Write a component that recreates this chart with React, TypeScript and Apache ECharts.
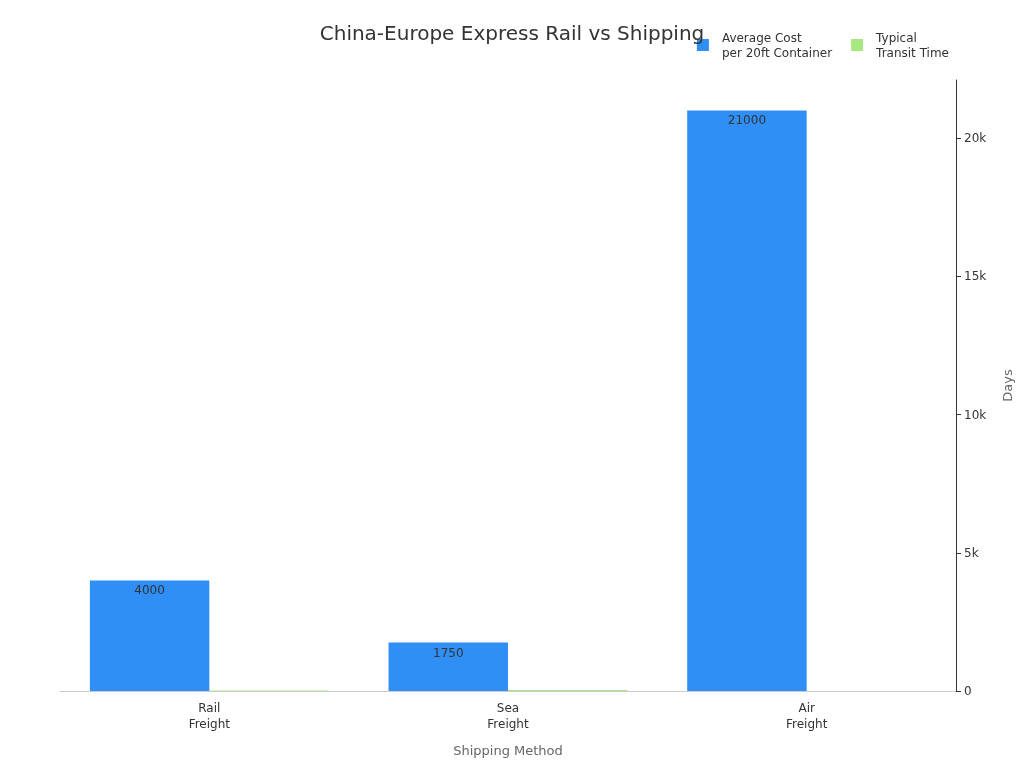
import * as echarts from "echarts";
import { useEffect, useRef } from "react";

const categories = ["Rail\nFreight", "Sea\nFreight", "Air\nFreight"];
const costValues = [4000, 1750, 21000];
const transitDays = [16, 35, 3];
const yTicks = [0, 5000, 10000, 15000, 20000];

export default function App() {
  const chartRef = useRef<HTMLDivElement | null>(null);

  useEffect(() => {
    const el = chartRef.current;
    if (!el) return;
    const chart = echarts.init(el, undefined, { renderer: "svg" });

    const option: echarts.EChartsOption = {
      animation: false,
      textStyle: { fontFamily: "DejaVu Sans" },
      title: {
        text: "China-Europe Express Rail vs Shipping",
        left: "center",
        top: 18,
        textStyle: { fontSize: 20, fontWeight: "normal", color: "#333" },
      },
      legend: {
        top: 25,
        right: 70,
        itemWidth: 12,
        itemHeight: 12,
        itemGap: 19,
        icon: "rect",
        textStyle: { fontSize: 12, color: "#333", lineHeight: 15, padding: [0, 0, 0, 8] },
        data: ["Average Cost\nper 20ft Container", "Typical\nTransit Time"],
      },
      grid: { left: 60, right: 68, top: 80, bottom: 77, outerBoundsMode: "none", containLabel: false },
      xAxis: {
        type: "category",
        data: categories,
        name: "Shipping Method",
        nameLocation: "middle",
        nameGap: 53,
        nameTextStyle: { fontSize: 13, color: "#666" },
        axisLine: { lineStyle: { color: "#ccc" } },
        axisTick: { alignWithLabel: true, lineStyle: { color: "#999" } },
        axisLabel: { fontSize: 12, color: "#333", lineHeight: 16, margin: 9 },
      },
      yAxis: {
        type: "value",
        position: "right",
        min: 0,
        max: 22100,
        name: "Days",
        nameLocation: "middle",
        nameGap: 45,
        nameRotate: 90,
        nameTextStyle: { fontSize: 13, color: "#666" },
        axisLine: { show: true, lineStyle: { color: "#333" } },
        axisTick: { show: true, customValues: yTicks, lineStyle: { color: "#333" } },
        splitLine: { show: false },
        axisLabel: {
          fontSize: 12,
          color: "#333",
          customValues: yTicks,
          formatter: (v: number) => (v === 0 ? "0" : `${v / 1000}k`),
        },
      },
      series: [
        {
          name: "Average Cost\nper 20ft Container",
          type: "bar",
          data: costValues,
          barGap: "0%",
          barCategoryGap: "20%",
          itemStyle: { color: "#2f8ff7" },
          label: {
            show: true,
            position: "insideTop",
            color: "#333",
            fontSize: 12,
            distance: 4,
          },
        },
        {
          name: "Typical\nTransit Time",
          type: "bar",
          data: transitDays,
          itemStyle: { color: "#6ad82a", opacity: 0.6 },
        },
      ],
    };

    chart.setOption(option);
    return () => {
      if (!chart.isDisposed()) chart.dispose();
    };
  }, []);

  return (
    <div
      ref={chartRef}
      style={{ position: "fixed", left: 0, top: 0, width: 1024, height: 768 }}
    />
  );
}
